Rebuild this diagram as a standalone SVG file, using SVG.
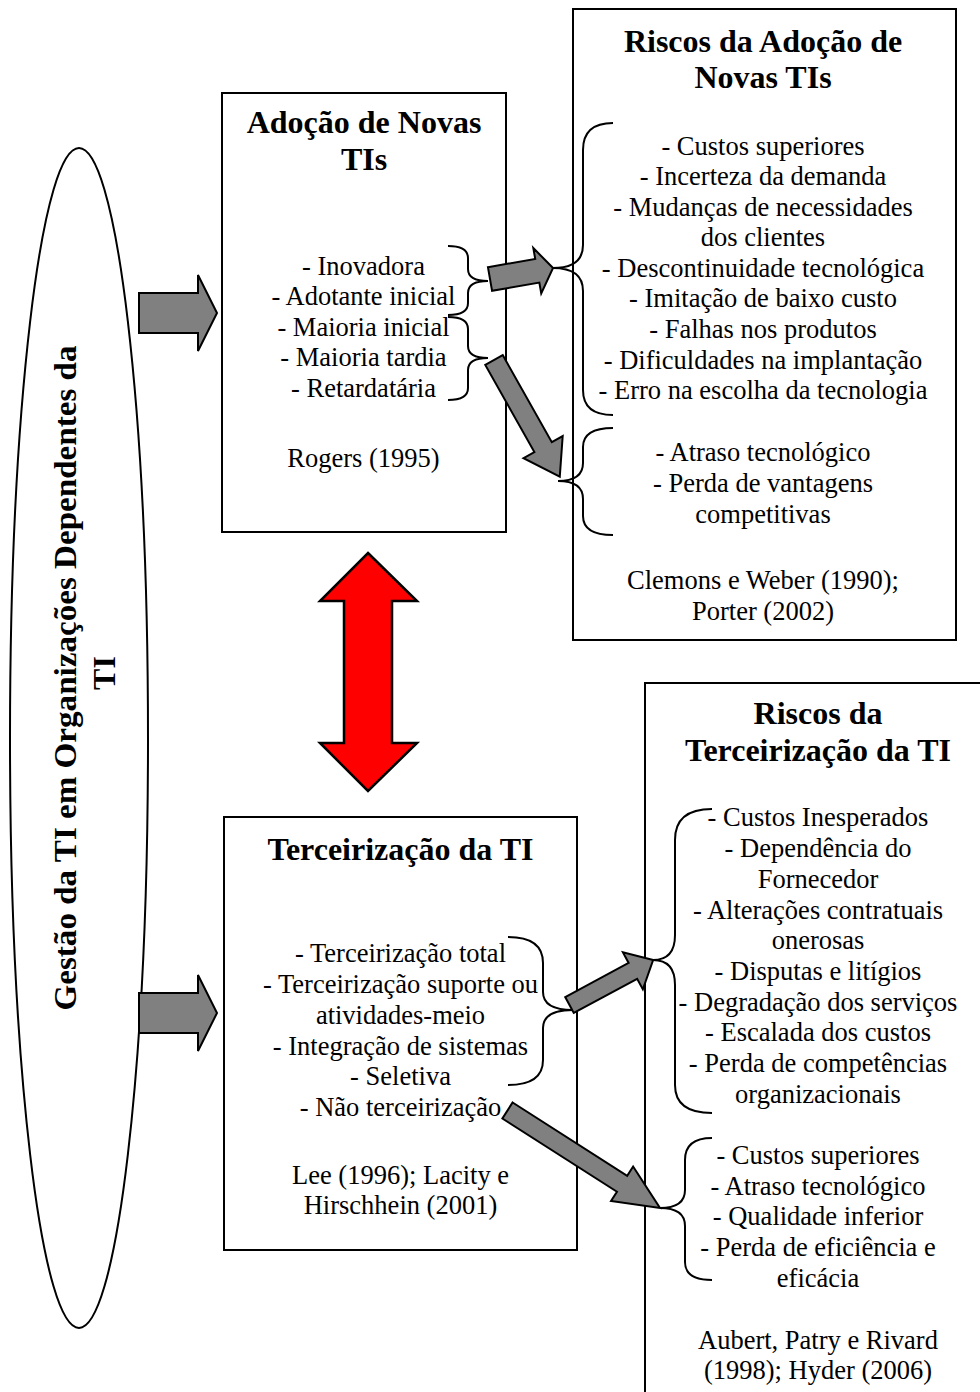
<svg xmlns="http://www.w3.org/2000/svg" width="980" height="1392" viewBox="0 0 980 1392">
  <style>
    .box { fill: #ffffff; stroke: #000000; stroke-width: 2; }
    .title { font-family: "Liberation Serif", "Times New Roman", serif; font-weight: bold; font-size: 32px; fill: #000000; text-anchor: middle; }
    .body { font-family: "Liberation Serif", "Times New Roman", serif; font-size: 26.5px; fill: #000000; text-anchor: middle; }
    .brace { fill: none; stroke: #000000; stroke-width: 2; }
    .block { fill: #808080; stroke: #000000; stroke-width: 2; stroke-linejoin: miter; }
    .dbl { fill: #ff0000; stroke: #000000; stroke-width: 2.5; stroke-linejoin: miter; }
  </style>

  <rect width="980" height="1392" fill="#ffffff"/>

  <!-- Central management ellipse with vertical label -->
  <g id="gestao">
    <ellipse cx="79" cy="738" rx="69" ry="590" fill="#ffffff" stroke="#000000" stroke-width="2"/>
    <text class="title" font-size="33" textLength="665" lengthAdjust="spacingAndGlyphs" transform="translate(76,678) rotate(-90)">Gestão da TI em Organizações Dependentes da</text>
    <text class="title" font-size="33" transform="translate(115,673) rotate(-90)">TI</text>
  </g>

  <!-- Adoption of new IT -->
  <g id="adocao">
    <rect class="box" x="222" y="93" width="284" height="439"/>
    <text class="title" x="364" y="133">Adoção de Novas</text>
    <text class="title" x="364" y="170">TIs</text>
    <text class="body" x="363.5" y="275">- Inovadora</text>
    <text class="body" x="363.5" y="305">- Adotante inicial</text>
    <text class="body" x="363.5" y="336">- Maioria inicial</text>
    <text class="body" x="363.5" y="366">- Maioria tardia</text>
    <text class="body" x="363.5" y="397">- Retardatária</text>
    <text class="body" x="363.5" y="467">Rogers (1995)</text>
    <path class="brace" d="M448,246 Q468,246 468,258 L468,269 Q468,281 488,281 Q468,281 468,293 L468,303 Q468,315 448,315"/>
    <path class="brace" d="M448,317 Q468,317 468,329 L468,346 Q468,358 488,358 Q468,358 468,370 L468,388 Q468,400 448,400"/>
  </g>

  <!-- Risks of adopting new IT -->
  <g id="riscos-adocao">
    <rect class="box" x="573" y="9" width="383" height="631"/>
    <text class="title" x="763" y="52">Riscos da Adoção de</text>
    <text class="title" x="763" y="88">Novas TIs</text>
    <text class="body" x="763" y="155">- Custos superiores</text>
    <text class="body" x="763" y="185">- Incerteza da demanda</text>
    <text class="body" x="763" y="216">- Mudanças de necessidades</text>
    <text class="body" x="763" y="246">dos clientes</text>
    <text class="body" x="763" y="277">- Descontinuidade tecnológica</text>
    <text class="body" x="763" y="307">- Imitação de baixo custo</text>
    <text class="body" x="763" y="338">- Falhas nos produtos</text>
    <text class="body" x="763" y="369">- Dificuldades na implantação</text>
    <text class="body" x="763" y="399">- Erro na escolha da tecnologia</text>
    <text class="body" x="763" y="461">- Atraso tecnológico</text>
    <text class="body" x="763" y="492">- Perda de vantagens</text>
    <text class="body" x="763" y="523">competitivas</text>
    <text class="body" x="763" y="589">Clemons e Weber (1990);</text>
    <text class="body" x="763" y="620">Porter (2002)</text>
    <path class="brace" d="M613,123 Q583,123 583,150 L583,245 Q583,268 553,268 Q583,268 583,291 L583,390 Q583,415 613,415"/>
    <path class="brace" d="M613,428 Q583,428 583,447 L583,463 Q583,481 558,481 Q583,481 583,499 L583,516 Q583,535 613,535"/>
  </g>

  <!-- IT outsourcing -->
  <g id="terceirizacao">
    <rect class="box" x="224" y="817" width="353" height="433"/>
    <text class="title" x="400.5" y="860">Terceirização da TI</text>
    <text class="body" x="400.5" y="962">- Terceirização total</text>
    <text class="body" x="400.5" y="993">- Terceirização suporte ou</text>
    <text class="body" x="400.5" y="1024">atividades-meio</text>
    <text class="body" x="400.5" y="1055">- Integração de sistemas</text>
    <text class="body" x="400.5" y="1085">- Seletiva</text>
    <text class="body" x="400.5" y="1116">- Não terceirização</text>
    <text class="body" x="400.5" y="1184">Lee (1996); Lacity e</text>
    <text class="body" x="400.5" y="1214">Hirschhein (2001)</text>
    <path class="brace" d="M508,937 Q543,937 543,963 L543,992 Q543,1010 573,1010 Q543,1010 543,1028 L543,1060 Q543,1085 508,1085"/>
  </g>

  <!-- Risks of IT outsourcing -->
  <g id="riscos-terceirizacao">
    <rect class="box" x="645" y="683" width="346" height="730"/>
    <text class="title" x="818" y="724">Riscos da</text>
    <text class="title" x="818" y="761">Terceirização da TI</text>
    <text class="body" x="818" y="826">- Custos Inesperados</text>
    <text class="body" x="818" y="857">- Dependência do</text>
    <text class="body" x="818" y="888">Fornecedor</text>
    <text class="body" x="818" y="919">- Alterações contratuais</text>
    <text class="body" x="818" y="949">onerosas</text>
    <text class="body" x="818" y="980">- Disputas e litígios</text>
    <text class="body" x="818" y="1011">- Degradação dos serviços</text>
    <text class="body" x="818" y="1041">- Escalada dos custos</text>
    <text class="body" x="818" y="1072">- Perda de competências</text>
    <text class="body" x="818" y="1103">organizacionais</text>
    <text class="body" x="818" y="1164">- Custos superiores</text>
    <text class="body" x="818" y="1195">- Atraso tecnológico</text>
    <text class="body" x="818" y="1225">- Qualidade inferior</text>
    <text class="body" x="818" y="1256">- Perda de eficiência e</text>
    <text class="body" x="818" y="1287">eficácia</text>
    <text class="body" x="818" y="1349">Aubert, Patry e Rivard</text>
    <text class="body" x="818" y="1379">(1998); Hyder (2006)</text>
    <path class="brace" d="M712,809 Q675,809 675,840 L675,935 Q675,960 653,960 Q675,960 675,985 L675,1085 Q675,1113 712,1113"/>
    <path class="brace" d="M712,1138 Q685,1138 685,1160 L685,1190 Q685,1208 660,1208 Q685,1208 685,1226 L685,1262 Q685,1280 712,1280"/>
  </g>

  <!-- Connectors: block arrows -->
  <g id="connectors">
    <polygon class="block" points="139,293 198,293 198,275 217,313 198,351 198,333 139,333"/>
    <polygon class="block" points="139,993 198,993 198,975 217,1013 198,1051 198,1033 139,1033"/>
    <polygon class="dbl" points="368,553 417,601 392,601 392,743 417,743 368,791 320,743 344,743 344,601 320,601"/>
    <polygon class="block" transform="translate(490,279) rotate(-9.9)" points="0,-12 48,-12 48,-23 64,0 48,23 48,12 0,12"/>
    <polygon class="block" transform="translate(494,360) rotate(60.6)" points="0,-10 100,-10 100,-22.5 134,0 100,22.5 100,10 0,10"/>
    <polygon class="block" transform="translate(569.5,1005) rotate(-28.3)" points="0,-9 72,-9 72,-21 95,0 72,21 72,9 0,9"/>
    <polygon class="block" transform="translate(507.5,1110.5) rotate(32.6)" points="0,-9.5 136,-9.5 136,-20.5 181,0 136,20.5 136,9.5 0,9.5"/>
  </g>
</svg>
